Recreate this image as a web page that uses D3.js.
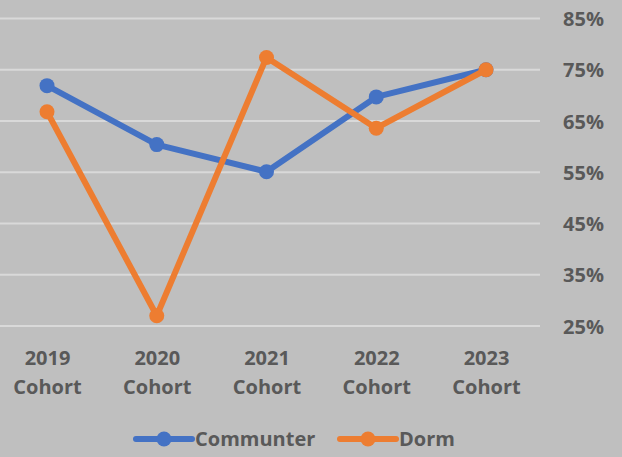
<!DOCTYPE html>
<html>
<head>
<meta charset="utf-8">
<script src="https://cdn.jsdelivr.net/npm/d3@7"></script>
<style>
  html, body { margin: 0; padding: 0; background: #bfbfbf; }
  svg { display: block; }
  text { font-family: "Open Sans", sans-serif; font-weight: bold; fill: #595959; }
</style>
</head>
<body>
<div class="chart"></div>
<script>
// chart data
var cohorts = ["2019", "2020", "2021", "2022", "2023"];
var communter = [71.9, 60.4, 55.1, 69.7, 75.0];
var dorm = [66.8, 27.0, 77.4, 63.6, 75.0];
var yTicks = [25, 35, 45, 55, 65, 75, 85];
var seriesNames = ["Communter", "Dorm"];
var seriesColors = ["#4472c4", "#ed7d31"];

var svgWidth = 622;
var svgHeight = 457;

var svg = d3.select(".chart")
  .append("svg")
  .attr("width", svgWidth)
  .attr("height", svgHeight);

svg.append("rect")
  .attr("width", svgWidth)
  .attr("height", svgHeight)
  .attr("fill", "#bfbfbf");

// scales
var xScale = d3.scalePoint()
  .domain(cohorts)
  .range([47, 486]);

var yScale = d3.scaleLinear()
  .domain([25, 85])
  .range([326, 18.5]);

// gridlines
svg.append("g")
  .selectAll("line")
  .data(yTicks)
  .enter()
  .append("line")
  .attr("x1", 0)
  .attr("x2", 540)
  .attr("y1", d => yScale(d))
  .attr("y2", d => yScale(d))
  .attr("stroke", "#d9d9d9")
  .attr("stroke-width", 2);

// right axis labels
var yAxis = d3.axisRight(yScale)
  .tickValues(yTicks)
  .tickSize(0)
  .tickFormat(d => d + "%");

var yAxisG = svg.append("g")
  .attr("transform", "translate(604, 0)")
  .call(yAxis);
yAxisG.select(".domain").remove();
yAxisG.selectAll("text")
  .attr("x", 0)
  .attr("dy", "0.36em")
  .attr("text-anchor", "end")
  .attr("font-size", 20)
  .attr("fill", "#595959");

// bottom axis labels (two lines)
var xAxis = d3.axisBottom(xScale).tickSize(0);
var xAxisG = svg.append("g")
  .call(xAxis);
xAxisG.select(".domain").remove();
xAxisG.selectAll("text").remove();
xAxisG.selectAll(".tick")
  .append("text")
  .attr("text-anchor", "middle")
  .attr("font-size", 20)
  .attr("fill", "#595959")
  .each(function(d) {
    var t = d3.select(this);
    t.append("tspan").attr("x", 0).attr("y", 365).text(d);
    t.append("tspan").attr("x", 0).attr("y", 394).text("Cohort");
  });

// lines and markers
var series = [communter, dorm];
var line = d3.line()
  .x((d, i) => xScale(cohorts[i]))
  .y(d => yScale(d));

series.forEach(function(values, s) {
  var g = svg.append("g");
  g.append("path")
    .datum(values)
    .attr("d", line)
    .attr("fill", "none")
    .attr("stroke", seriesColors[s])
    .attr("stroke-width", 6)
    .attr("stroke-linejoin", "round");
  g.selectAll("circle")
    .data(values)
    .enter()
    .append("circle")
    .attr("cx", (d, i) => xScale(cohorts[i]))
    .attr("cy", d => yScale(d))
    .attr("r", 7.5)
    .attr("fill", seriesColors[s]);
});

// legend
var legendX = [136, 340];
var legend = svg.append("g")
  .selectAll("g")
  .data(seriesNames)
  .enter()
  .append("g")
  .attr("transform", (d, i) => `translate(${legendX[i]}, 439)`);

legend.append("line")
  .attr("x1", 0)
  .attr("x2", 56)
  .attr("stroke", (d, i) => seriesColors[i])
  .attr("stroke-width", 6)
  .attr("stroke-linecap", "round");

legend.append("circle")
  .attr("cx", 28)
  .attr("r", 7.5)
  .attr("fill", (d, i) => seriesColors[i]);

legend.append("text")
  .attr("x", 59)
  .attr("dy", "0.36em")
  .attr("font-size", 20)
  .text(d => d);
</script>
</body>
</html>
